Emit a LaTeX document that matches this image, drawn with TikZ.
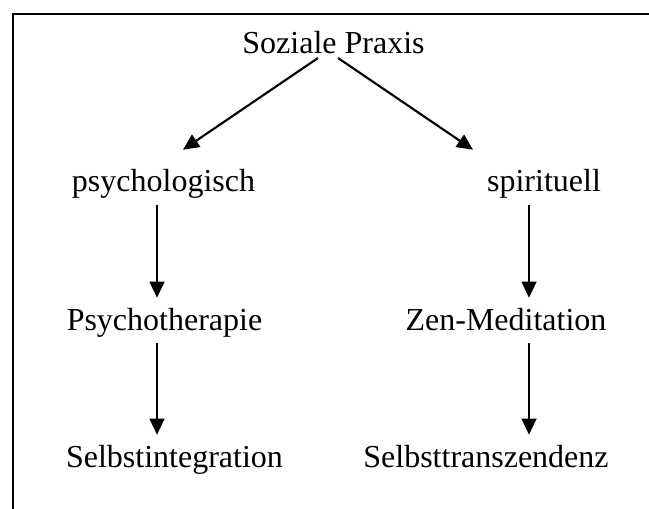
\documentclass[tikz,border=0pt]{standalone}
\usepackage{fontspec}
\setmainfont{Liberation Serif}
\usetikzlibrary{arrows.meta, calc}

\begin{document}
\begin{tikzpicture}[
    x=0.75pt, y=-0.75pt,
    lbl/.style={anchor=base, font=\fontsize{24}{28}\selectfont, text height=19.5pt, text depth=5.25pt, inner xsep=0pt, inner ysep=4.5pt},
    arr/.style={-{Triangle[length=12pt, width=11pt]}, line width=1.6pt},
    frame/.style={line width=1.6pt}
]
\useasboundingbox (0,0) rectangle (649,509);

% Frame (top and left edge only)
\draw[frame] (13,509) -- (13,14) -- (649,14);

% Columns for the vertical arrows
\coordinate (colL) at (157,0);
\coordinate (colR) at (529,0);

% Top
\node[lbl] (soz) at (333.5,54) {Soziale Praxis};

% Left branch
\node[lbl] (psy) at (163.5,192) {psychologisch};
\node[lbl] (ther) at (164.5,330) {Psychotherapie};
\node[lbl] (integ) at (174.5,467) {Selbstintegration};

% Right branch
\node[lbl] (spir) at (544,192) {spirituell};
\node[lbl] (zen) at (506,330) {Zen-Meditation};
\node[lbl] (trans) at (486,467) {Selbsttranszendenz};

% Arrows
\draw[arr] ($(soz.base)+(-15.5,4)$) -- ($(psy.north)+(19.5,-10)$);
\draw[arr] ($(soz.base)+(4.5,4)$) -- ($(spir.north)+(-71,-10)$);
\draw[arr] (psy.south -| colL) -- (ther.north -| colL);
\draw[arr] (ther.south -| colL) -- (integ.north -| colL);
\draw[arr] (spir.south -| colR) -- (zen.north -| colR);
\draw[arr] (zen.south -| colR) -- (trans.north -| colR);

\end{tikzpicture}
\end{document}
